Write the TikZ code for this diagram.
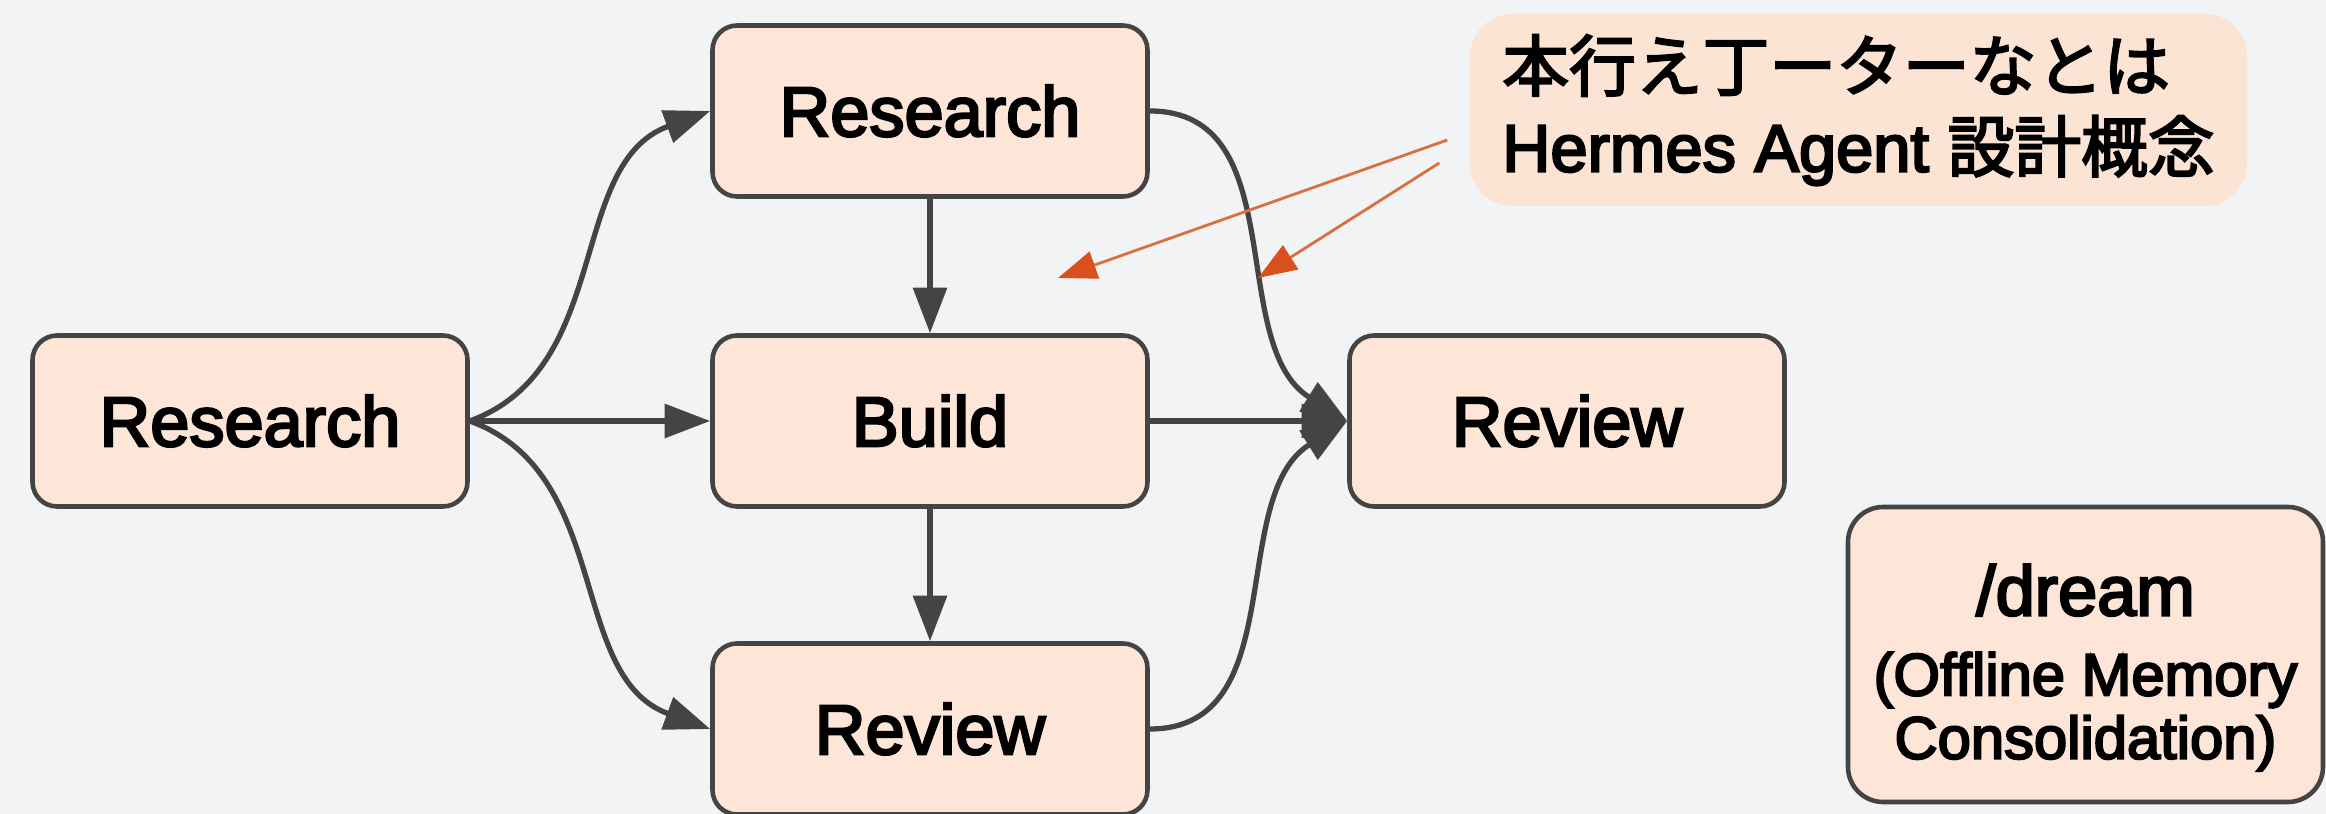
\documentclass[tikz,border=0pt]{standalone}
\usepackage{fontspec}
\setmainfont{Liberation Sans}[FakeBold=3.5]
\newfontfamily\cjk{Noto Sans CJK JP}[FakeBold=3]
\usepackage{xcolor}
\usepackage{tikz}
\usetikzlibrary{calc}
\usetikzlibrary{arrows.meta}
\definecolor{PaperGray}{HTML}{F1F3F5}
\definecolor{BoxPeach}{HTML}{FDE5D8}
\definecolor{NotePeach}{HTML}{FCE4D4}
\definecolor{EdgeGray}{HTML}{444444}
\definecolor{HintOrange}{HTML}{D8703F}
\definecolor{HintRed}{HTML}{D94F1D}

\begin{document}
\begin{tikzpicture}[
  stage/.style = {draw = EdgeGray, fill = BoxPeach, line width = 1.3pt,
    rounded corners = 7pt, minimum width = 4.35cm, minimum height = 1.71cm,
    font = \fontsize{20}{24}\selectfont},
  flow/.style = {draw = EdgeGray, line width = 1.5pt,
    -{Triangle[length = 13pt, width = 9.5pt]}},
  hint/.style = {draw = HintOrange, line width = .8pt,
    -{Triangle[length = 11pt, width = 8pt, color = HintRed]}}
]
  % canvas
  \useasboundingbox (0,0) rectangle (23.26,8.14);
  \fill[PaperGray] (0,0) rectangle (23.26,8.14);

  % stages
  \node[stage] (researchIn) at (2.50,3.93) {Research};
  \node[stage] (researchTop) at (9.30,7.03) {Research};
  \node[stage] (build) at (9.30,3.93) {Build};
  \node[stage] (reviewLow) at (9.30,0.85) {Review};
  \node[stage] (reviewOut) at (15.67,3.93) {Review};

  % offline box
  \node[stage, minimum width = 4.75cm, minimum height = 2.95cm, rounded corners = 10pt,
    align = center, font = \fontsize{17}{18}\selectfont] (dream) at (20.855,1.595)
    {{\fontsize{20}{24}\selectfont \rule{0pt}{22pt}/dream}\\[4.8pt](Offline Memory\\Consolidation)};

  % note
  \node[fill = NotePeach, rounded corners = 12pt, minimum width = 7.77cm,
    minimum height = 1.92cm, align = left, font = \fontsize{19}{23}\selectfont]
    (note) at (18.585,7.04) {{\cjk 本行え丁ーターなとは}\\Hermes Agent {\cjk 設計概念}};

  % fan out
  \draw[flow] (researchIn.east) to[out = 20, in = 200] (researchTop.west);
  \draw[flow] (researchIn.east) -- (build.west);
  \draw[flow] (researchIn.east) to[out = -20, in = 160] (reviewLow.west);

  % middle column
  \draw[flow] (researchTop.south) -- (build.north);
  \draw[flow] (build.south) -- (reviewLow.north);

  % fan in
  \draw[flow] (researchTop.east) to[out = 0, in = 148] (reviewOut.west);
  \draw[flow] (build.east) -- (reviewOut.west);
  \draw[flow] (reviewLow.east) to[out = 0, in = 212] (reviewOut.west);

  % hints
  \coordinate (hintA) at ($(note.west)+(-.22,-.30)$);
  \coordinate (hintB) at ($(note.west)+(-.30,-.53)$);
  \coordinate (hintTipA) at (10.58,5.36);
  \coordinate (hintTipB) at (12.58,5.36);
  \draw[hint] (hintA) -- (hintTipA);
  \draw[hint] (hintB) -- (hintTipB);

\end{tikzpicture}
\end{document}
